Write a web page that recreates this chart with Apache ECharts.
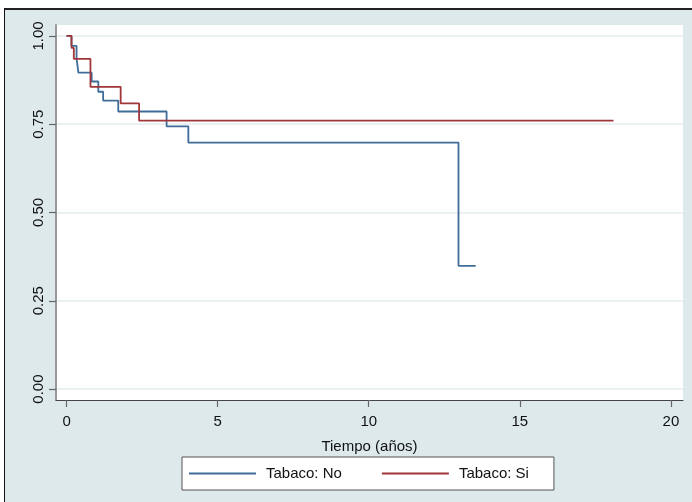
<!DOCTYPE html>
<html>
<head>
<meta charset="utf-8">
<script src="https://cdn.jsdelivr.net/npm/echarts@6/dist/echarts.min.js"></script>
<style>
html,body{margin:0;padding:0;background:#fff;width:692px;height:502px;overflow:hidden;}
#frame{position:absolute;left:4px;top:8px;width:700px;height:500px;border-left:1.5px solid #111;border-top:2px solid #222;background:#dde9eb;}
#chart{position:absolute;left:0;top:0;width:692px;height:502px;}
</style>
</head>
<body>
<div id="frame"></div>
<div id="chart"></div>
<script>
// Kaplan-Meier estimates
const noTime = [0, 0.16, 0.33, 0.39, 0.83, 1.05, 1.21, 1.71, 3.31, 4.03, 12.97, 13.54];
const noSurv = [1, 0.972, 0.937, 0.896, 0.871, 0.842, 0.817, 0.786, 0.744, 0.698, 0.349, 0.349];
const siTime = [0, 0.165, 0.24, 0.79, 1.79, 2.40, 18.1];
const siSurv = [1, 0.966, 0.935, 0.856, 0.809, 0.760, 0.760];
const xTicks = [0, 5, 10, 15, 20];
const yTicks = [0, 0.25, 0.5, 0.75, 1];
const seriesNames = ['Tabaco: No', 'Tabaco: Si'];
const xTitle = 'Tiempo (años)';

const pairs = (t, s) => t.map((v, i) => [v, s[i]]);
const FONT = 'Liberation Sans, Arial, sans-serif';

const chart = echarts.init(document.getElementById('chart'), null, {renderer: 'canvas'});
chart.setOption({
  animation: false,
  backgroundColor: 'transparent',
  grid: {left: 56, right: 9, top: 25, bottom: 102, show: true, backgroundColor: '#ffffff', borderWidth: 0},
  xAxis: {
    type: 'value', min: -0.35, max: 20.4,
    name: xTitle, nameLocation: 'middle', nameGap: 39,
    nameTextStyle: {fontFamily: FONT, fontSize: 15, color: '#111'},
    axisLine: {show: true, onZero: false, lineStyle: {color: '#444', width: 1}},
    axisTick: {show: true, length: 7, customValues: xTicks, lineStyle: {color: '#666', width: 1.2}},
    axisLabel: {customValues: xTicks, margin: 14, fontFamily: FONT, fontSize: 15, color: '#111', formatter: v => String(v)},
    splitLine: {show: false}
  },
  yAxis: {
    type: 'value', min: -0.031, max: 1.031,
    axisLine: {show: true, onZero: false, lineStyle: {color: '#999', width: 2}},
    axisTick: {show: true, length: 7, customValues: yTicks, lineStyle: {color: '#666', width: 1.2}},
    axisLabel: {customValues: yTicks, rotate: 90, margin: 10, fontFamily: FONT, fontSize: 15, color: '#111', formatter: v => v.toFixed(2)},
    splitLine: {show: true, lineStyle: {color: '#e3eded', width: 1.5}}
  },
  legend: {
    left: 182, top: 457,
    data: seriesNames,
    orient: 'horizontal',
    icon: 'rect', itemWidth: 67, itemHeight: 2, itemGap: 40,
    padding: [9, 25, 9, 7],
    backgroundColor: '#ffffff', borderColor: '#555', borderWidth: 1, borderRadius: 0,
    textStyle: {fontFamily: FONT, fontSize: 15, color: '#111', padding: [0, 0, 0, 5]}
  },
  series: [
    {name: seriesNames[0], type: 'line', step: 'end', showSymbol: false, data: pairs(noTime, noSurv),
     itemStyle: {color: '#3f6c99'}, lineStyle: {color: '#3f6c99', width: 1.8}},
    {name: seriesNames[1], type: 'line', step: 'end', showSymbol: false, data: pairs(siTime, siSurv),
     itemStyle: {color: '#a0363a'}, lineStyle: {color: '#a0363a', width: 1.8}}
  ]
});
</script>
</body>
</html>
